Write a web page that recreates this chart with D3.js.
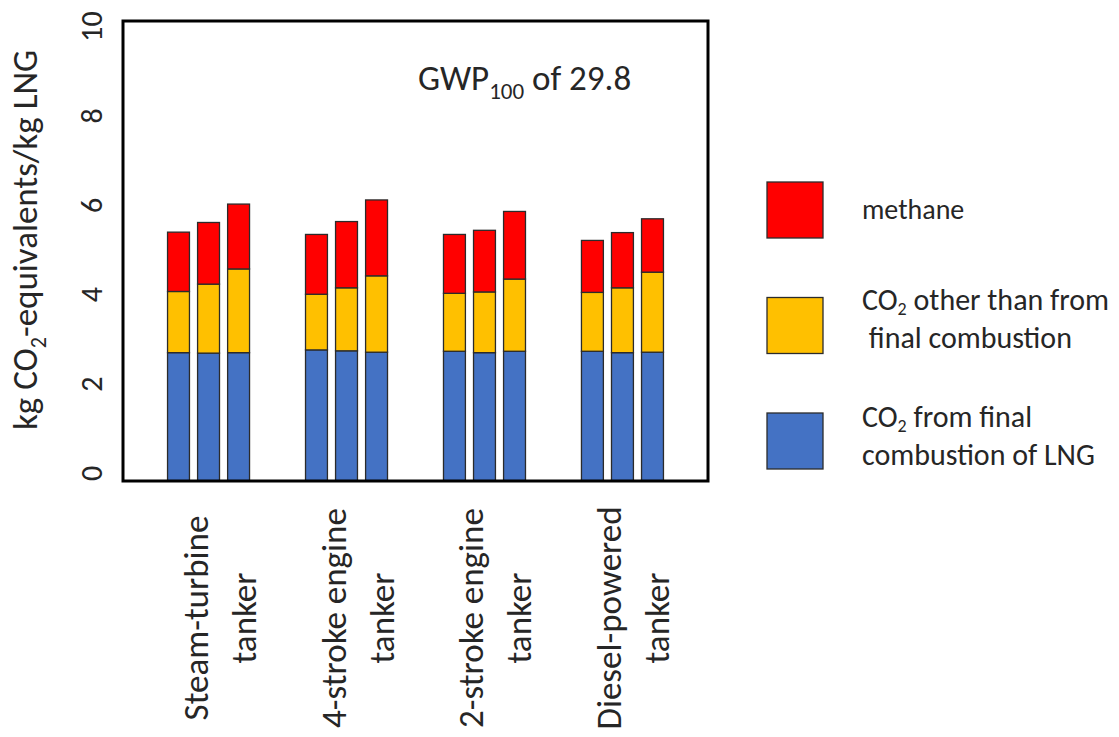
<!DOCTYPE html>
<html><head><meta charset="utf-8">
<script src="https://cdn.jsdelivr.net/npm/d3@7"></script>
<style>
html,body{margin:0;padding:0;background:#fff;}
svg text{font-family:Carlito,Calibri,Lato,sans-serif;fill:#262626;white-space:pre;}
</style></head>
<body>
<svg id="chart" width="1119" height="737"></svg>
<script>
// ---- data ----
const groups = ["Steam-turbine tanker","4-stroke engine tanker","2-stroke engine tanker","Diesel-powered tanker"];
const groupLines = [["Steam-turbine","tanker"],["4-stroke engine","tanker"],["2-stroke engine","tanker"],["Diesel-powered","tanker"]];
const variants = [0,1,2];
const seriesKeys = ["co2Final","co2Other","methane"];
const co2Final = [[2.79,2.78,2.79],[2.85,2.83,2.80],[2.82,2.79,2.82],[2.82,2.79,2.80]];
const co2Other = [[1.33,1.50,1.82],[1.21,1.37,1.66],[1.26,1.32,1.57],[1.28,1.41,1.74]];
const methane  = [[1.29,1.34,1.41],[1.30,1.44,1.65],[1.28,1.34,1.47],[1.13,1.20,1.16]];
const yTicks = [0,2,4,6,8,10];
const legendItems = [
  {key:"methane", lines:[[{t:"methane"}]]},
  {key:"co2Other", lines:[[{t:"CO"},{t:"2",sub:true},{t:" other than from"}],[{t:" final combustion"}]]},
  {key:"co2Final", lines:[[{t:"CO"},{t:"2",sub:true},{t:" from final"}],[{t:"combustion of LNG"}]]}
];
const colors = {co2Final:"#4472C4", co2Other:"#FFC000", methane:"#FF0000"};

// ---- build table ----
const rows = [];
groups.forEach((g,gi)=>variants.forEach(v=>rows.push({group:g, variant:v,
  co2Final:co2Final[gi][v], co2Other:co2Other[gi][v], methane:methane[gi][v]})));

const svg = d3.select("#chart");
const L=123, R=708, T=21, B=481;

const y = d3.scaleLinear().domain([0,10]).range([B,T]);
const yLab = d3.scaleLinear().domain([0,10]).range([473,26]);
const x0 = d3.scaleBand().domain(groups).range([L,R]).paddingInner(0.24).paddingOuter(0.24);
const x1 = d3.scaleBand().domain(variants).range([0,82]).paddingInner(0.27);

const stacked = d3.stack().keys(seriesKeys)(rows);

const gBars = svg.append("g");
stacked.forEach(s=>{
  gBars.selectAll(null).data(s).enter().append("rect")
    .attr("x", d=>x0(d.data.group)+x0.bandwidth()/2-41+x1(d.data.variant))
    .attr("width", x1.bandwidth())
    .attr("y", d=>y(d[1]))
    .attr("height", d=>y(d[0])-y(d[1]))
    .attr("fill", colors[s.key])
    .attr("stroke","#2b2b2b").attr("stroke-width",1.3);
});

// frame
svg.append("rect").attr("x",L).attr("y",T).attr("width",R-L).attr("height",B-T)
  .attr("fill","none").attr("stroke","#000").attr("stroke-width",3);

// y tick labels
const ax = svg.append("g").attr("transform","translate(91,0)")
  .call(d3.axisLeft(yLab).tickValues(yTicks).tickSize(0).tickFormat(d3.format("d")));
ax.select(".domain").remove();
ax.selectAll("text").attr("x",0).attr("y",0).attr("dy",null)
  .attr("transform","rotate(-90)")
  .attr("text-anchor","middle").attr("dominant-baseline","central")
  .attr("fill","#262626")
  .style("font-size","30px").style("font-family","Carlito,Calibri,Lato,sans-serif");

// y title
const yt = svg.append("text").attr("transform","translate(37,240) rotate(-90)")
  .attr("text-anchor","middle").style("font-size","35px");
yt.append("tspan").text("kg CO");
yt.append("tspan").text("2").attr("dy",9).style("font-size","22px");
yt.append("tspan").text("-equivalents/kg LNG").attr("dy",-9);

// GWP annotation
const gw = svg.append("text").attr("x",418).attr("y",90).style("font-size","35px");
gw.append("tspan").text("GWP");
gw.append("tspan").text("100").attr("dy",9).style("font-size","23px");
gw.append("tspan").text(" of 29.8").attr("dy",-9);

// x labels
groups.forEach((g,gi)=>{
  const cx = x0(g)+x0.bandwidth()/2 + 11;
  const lines = groupLines[gi];
  lines.forEach((ln,li)=>{
    svg.append("text")
      .attr("transform",`translate(${cx + (li - (lines.length-1)/2)*48},618) rotate(-90)`)
      .attr("text-anchor","middle").attr("dominant-baseline","central")
      .style("font-size","35px").text(ln);
  });
});

// legend
const legY = d3.scalePoint().domain(legendItems.map(d=>d.key)).range([210,441]);
legendItems.forEach(item=>{
  const cy = legY(item.key);
  svg.append("rect").attr("x",767).attr("y",cy-28).attr("width",56).attr("height",56)
    .attr("fill",colors[item.key]).attr("stroke","#2b2b2b").attr("stroke-width",1.3);
  const n = item.lines.length;
  const shift = n===1 ? 0 : (item.key==="co2Other" ? -6 : -4);
  item.lines.forEach((ln,li)=>{
    const t = svg.append("text").attr("x",862).attr("y",cy + (li-(n-1)/2)*38 + 9 + shift)
      .style("font-size", n===1 ? "28px" : "30px");
    ln.forEach(seg=>{
      const ts = t.append("tspan").text(seg.t);
      if(seg.sub) ts.attr("dy",5).style("font-size","18px");
      else if(ts.node().previousSibling) ts.attr("dy",-5);
    });
  });
});
</script>
</body></html>
